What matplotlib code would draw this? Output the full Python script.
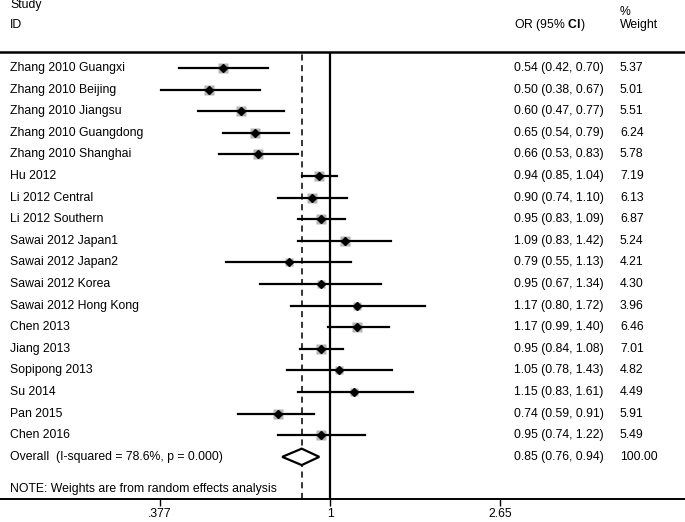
import matplotlib
matplotlib.use("Agg")
import matplotlib.pyplot as plt
import matplotlib.transforms as mtransforms
import numpy as np

plt.rcParams['font.family'] = ['Liberation Sans', 'DejaVu Sans']
plt.rcParams['mathtext.fontset'] = 'custom'
plt.rcParams['mathtext.rm'] = 'Liberation Sans'
plt.rcParams['mathtext.bf'] = 'Liberation Sans:bold'

studies = ["Zhang 2010 Guangxi", "Zhang 2010 Beijing", "Zhang 2010 Jiangsu",
           "Zhang 2010 Guangdong", "Zhang 2010 Shanghai", "Hu 2012",
           "Li 2012 Central", "Li 2012 Southern", "Sawai 2012 Japan1",
           "Sawai 2012 Japan2", "Sawai 2012 Korea", "Sawai 2012 Hong Kong",
           "Chen 2013", "Jiang 2013", "Sopipong 2013", "Su 2014",
           "Pan 2015", "Chen 2016"]
odds = [0.54, 0.50, 0.60, 0.65, 0.66, 0.94, 0.90, 0.95, 1.09, 0.79,
        0.95, 1.17, 1.17, 0.95, 1.05, 1.15, 0.74, 0.95]
lower = [0.42, 0.38, 0.47, 0.54, 0.53, 0.85, 0.74, 0.83, 0.83, 0.55,
         0.67, 0.80, 0.99, 0.84, 0.78, 0.83, 0.59, 0.74]
upper = [0.70, 0.67, 0.77, 0.79, 0.83, 1.04, 1.10, 1.09, 1.42, 1.13,
         1.34, 1.72, 1.40, 1.08, 1.43, 1.61, 0.91, 1.22]
weights = [5.37, 5.01, 5.51, 6.24, 5.78, 7.19, 6.13, 6.87, 5.24, 4.21,
           4.30, 3.96, 6.46, 7.01, 4.82, 4.49, 5.91, 5.49]
overall = (0.85, 0.76, 0.94)
overall_label = "Overall  (I-squared = 78.6%, p = 0.000)"
note = "NOTE: Weights are from random effects analysis"
xticks = [0.377, 1, 2.65]
xticklabels = [".377", "1", "2.65"]

fs = 8.8
fig = plt.figure(figsize=(6.85, 5.22), dpi=100)
ax = fig.add_axes([0, 23 / 522, 1, 447 / 522])
ax.set_xscale('log')
ax.set_xlim(0.1506, 7.66)
ax.set_ylim(19.95, -0.74)
for s in ['left', 'right']:
    ax.spines[s].set_visible(False)
ax.spines['bottom'].set_linewidth(1.4)
ax.spines['top'].set_linewidth(1.8)
ax.set_yticks([])
ax.set_xticks(xticks)
ax.set_xticklabels(xticklabels, fontsize=fs)
ax.xaxis.set_minor_locator(matplotlib.ticker.NullLocator())
ax.tick_params(axis='x', direction='out', length=5, width=1, pad=1.5)

n = len(studies)
ys = np.arange(n)
ax.axvline(1, color='black', lw=1.6, zorder=2)
ax.axvline(overall[0], color='black', lw=1.1, ls=(0, (4, 3)), zorder=2)

for y, o, lo, hi, w in zip(ys, odds, lower, upper, weights):
    ax.plot([lo, hi], [y, y], color='black', lw=1.6, zorder=3)
    ax.plot(o, y, marker='s', ms=2.9 * np.sqrt(w), color='#b4b4b4',
            mec='none', zorder=2.5)
    ax.plot(o, y, marker='D', ms=3.6, color='black', zorder=4)

oy = n
o, lo, hi = overall
ax.fill([lo, o, hi, o, lo], [oy, oy - 0.38, oy, oy + 0.38, oy],
        facecolor='white', edgecolor='black', lw=1.6, zorder=4)

trans = mtransforms.blended_transform_factory(ax.transAxes, ax.transData)
xs_name = 10 / 685
xs_or = 514 / 685
xs_w = 620 / 685

ax.text(xs_name, -2.92, "Study", transform=trans, fontsize=fs, va='center', clip_on=False)
ax.text(xs_name, -1.99, "ID", transform=trans, fontsize=fs, va='center', clip_on=False)
ax.text(xs_or, -1.99, r"OR (95% $\mathbf{CI}$)", transform=trans, fontsize=fs,
        va='center', clip_on=False)
ax.text(xs_w, -2.6, "%", transform=trans, fontsize=fs, va='center', clip_on=False)
ax.text(xs_w, -1.99, "Weight", transform=trans, fontsize=fs, va='center', clip_on=False)

for y, name, o, lo, hi, w in zip(ys, studies, odds, lower, upper, weights):
    ax.text(xs_name, y, name, transform=trans, fontsize=fs, va='center')
    ax.text(xs_or, y, f"{o:.2f} ({lo:.2f}, {hi:.2f})", transform=trans,
            fontsize=fs, va='center')
    ax.text(xs_w, y, f"{w:.2f}", transform=trans, fontsize=fs, va='center')

ax.text(xs_name, oy, overall_label, transform=trans, fontsize=fs, va='center')
ax.text(xs_or, oy, f"{overall[0]:.2f} ({overall[1]:.2f}, {overall[2]:.2f})",
        transform=trans, fontsize=fs, va='center')
ax.text(xs_w, oy, "100.00", transform=trans, fontsize=fs, va='center')
ax.text(xs_name, n + 1.5, note, transform=trans, fontsize=fs, va='center')

fig.savefig("out.png", dpi=100)
